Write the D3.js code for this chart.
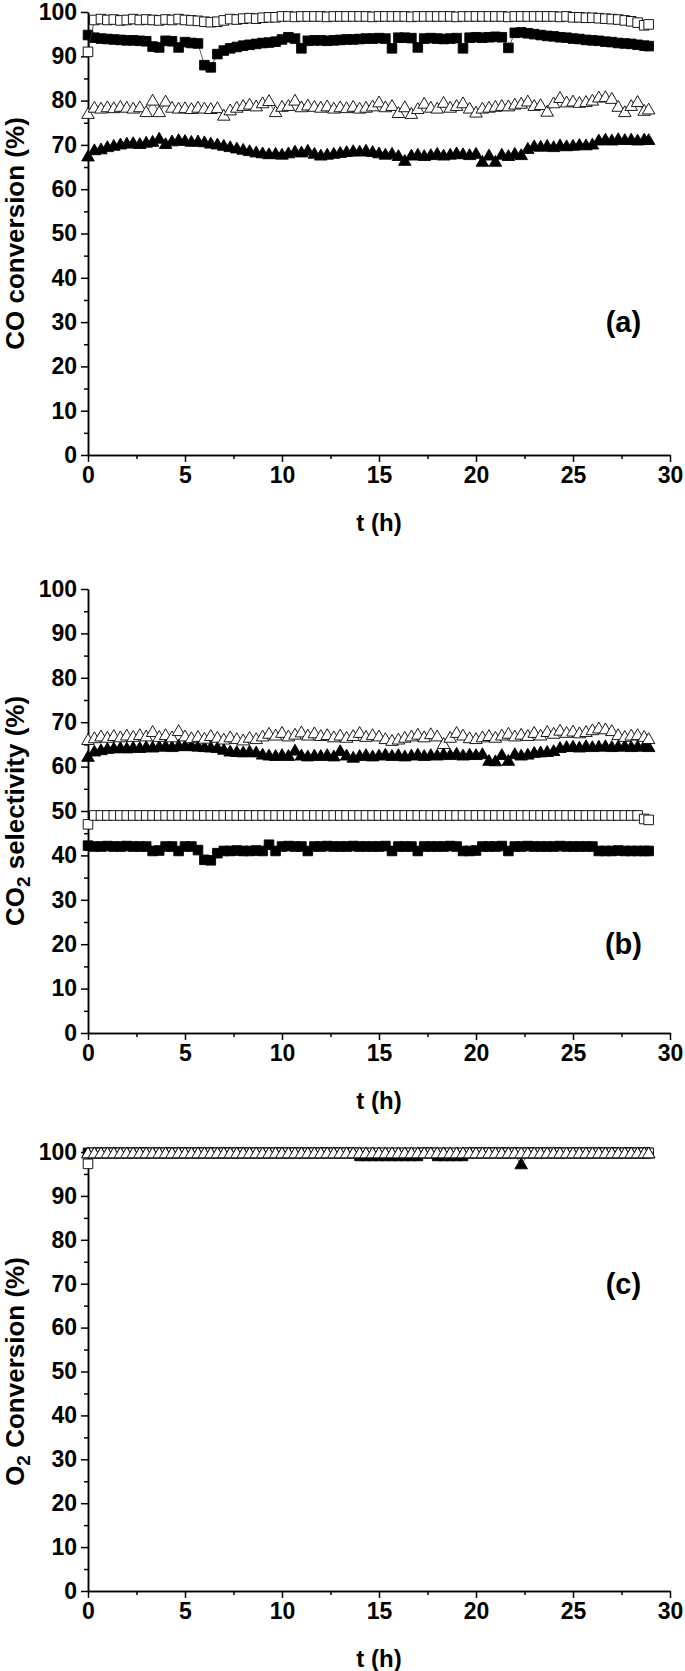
<!DOCTYPE html>
<html>
<head>
<meta charset="utf-8">
<script src="https://cdn.jsdelivr.net/npm/d3@7"></script>
<style>
body { margin: 0; background: #fff; }
svg text { font-family: "Liberation Sans", Arial, sans-serif; font-weight: bold; fill: #000; }
</style>
</head>
<body>
<svg id="chart" width="685" height="1671"></svg>
<script>

// time on stream (h), one sample every ~20 min
var hours = [0, 0.33, 0.67, 1, 1.33, 1.67, 2, 2.33, 2.67, 3,
    3.33, 3.67, 4, 4.33, 4.67, 5, 5.33, 5.67, 6, 6.33,
    6.67, 7, 7.33, 7.67, 8, 8.33, 8.67, 9, 9.33, 9.67,
    10, 10.33, 10.67, 11, 11.33, 11.67, 12, 12.33, 12.67, 13,
    13.33, 13.67, 14, 14.33, 14.67, 15, 15.33, 15.67, 16, 16.33,
    16.67, 17, 17.33, 17.67, 18, 18.33, 18.67, 19, 19.33, 19.67,
    20, 20.33, 20.67, 21, 21.33, 21.67, 22, 22.33, 22.67, 23,
    23.33, 23.67, 24, 24.33, 24.67, 25, 25.33, 25.67, 26, 26.33,
    26.67, 27, 27.33, 27.67, 28, 28.33, 28.67, 28.9];

// (a) CO conversion
var a_open_sq = [91, 98.2, 98.4, 98.2, 98.3, 98.1, 98.2, 98.4, 98.2, 98.3,
    98.2, 98.1, 98.3, 98.2, 98.4, 98.2, 98.1, 98.0, 97.8, 97.7,
    97.8, 98.1, 98.4, 98.3, 98.5, 98.6, 98.5, 98.7, 98.8, 98.8,
    99, 99, 98.9, 99, 99, 99, 99, 98.9, 99, 99,
    99, 99, 99, 99, 98.9, 99, 99, 99, 99, 99,
    98.9, 99, 99, 99, 99, 99, 99, 98.9, 99, 99,
    99, 99, 99, 99, 99, 98.9, 99, 99, 99, 99,
    99, 99, 99, 98.9, 99, 98.8, 98.8, 98.7, 98.7, 98.6,
    98.5, 98.4, 98.3, 98.1, 97.9, 97.6, 97.0, 97.2];
var a_full_sq = [94.8, 94.2, 94.0, 93.9, 93.8, 93.7, 93.6, 93.6, 93.5, 93.4,
    92.2, 92.0, 93.5, 93.4, 92.0, 93.2, 93.0, 92.9, 88.0, 87.5,
    90.5, 91.3, 91.8, 92.1, 92.4, 92.6, 92.8, 93.0, 93.1, 93.3,
    93.8, 94.3, 94.0, 91.8, 93.5, 93.6, 93.6, 93.5, 93.6, 93.7,
    93.8, 93.8, 93.9, 94.0, 94.0, 94.1, 94.0, 91.8, 94.2, 94.2,
    94.1, 92.0, 94.0, 94.1, 94.0, 93.9, 94.0, 94.1, 91.8, 94.2,
    94.3, 94.2, 94.3, 94.4, 94.3, 91.9, 95.3, 95.4, 95.2, 95.0,
    94.8, 94.6, 94.5, 94.3, 94.2, 94.0, 93.9, 93.7, 93.6, 93.5,
    93.3, 93.2, 93.0, 92.9, 92.8, 92.6, 92.4, 92.3];
var a_open_tri = [76.8, 78.2, 78.0, 78.3, 78.1, 78.4, 78.2, 78.0, 78.3, 77.2,
    79.8, 77.2, 79.6, 78.2, 78.0, 78.1, 77.9, 78.2, 78.0, 77.9,
    78.1, 76.4, 77.6, 78.2, 78.6, 78.9, 78.5, 79.2, 79.7, 77.2,
    78.4, 78.6, 79.8, 78.3, 78.7, 78.4, 78.2, 78.5, 78.0, 78.3,
    78.1, 78.4, 78.0, 78.2, 78.5, 79.4, 78.3, 78.6, 77.0, 78.3,
    76.8, 77.9, 79.1, 78.2, 78.0, 79.3, 78.2, 78.6, 79.2, 78.0,
    77.1, 78.0, 78.2, 78.4, 78.6, 78.5, 78.9, 79.1, 79.6, 78.6,
    78.8, 77.3, 79.2, 80.4, 79.4, 79.6, 79.3, 79.5, 79.8, 80.5,
    80.6, 80.2, 78.4, 77.2, 78.6, 79.5, 77.5, 77.8];
var a_full_tri = [67.2, 68.6, 68.8, 69.3, 69.6, 69.9, 70.1, 70.2, 70.0, 70.3,
    70.5, 71.2, 70.0, 70.6, 70.9, 70.7, 70.5, 70.6, 70.4, 70.1,
    69.9, 69.6, 69.3, 69.0, 68.7, 68.4, 68.1, 67.9, 67.7, 67.8,
    67.6, 67.9, 68.3, 68.1, 68.5, 67.8, 67.4, 67.6, 67.8, 68.0,
    68.2, 68.4, 68.3, 68.5, 68.2, 67.9, 67.6, 67.8, 67.3, 66.2,
    67.4, 67.6, 67.3, 67.5, 67.8, 67.4, 67.6, 67.9, 67.7, 67.5,
    67.8, 66.0, 67.4, 66.0, 67.6, 67.3, 67.8, 67.5, 68.9, 69.5,
    69.4, 69.6, 69.3, 69.7, 69.5, 69.6, 69.8, 69.7, 69.9, 70.8,
    71.0, 70.8, 71.1, 70.9, 71.0, 70.8, 71.0, 70.9];

// (b) CO2 selectivity
var b_open_sq = [47.0, 49, 49, 49, 49, 49, 49, 49, 49, 49,
    49, 49, 49, 49, 49, 49, 49, 49, 49, 49,
    49, 49, 49, 49, 49, 49, 49, 49, 49, 49,
    49, 49, 49, 49, 49, 49, 49, 49, 49, 49,
    49, 49, 49, 49, 49, 49, 49, 49, 49, 49,
    49, 49, 49, 49, 49, 49, 49, 49, 49, 49,
    49, 49, 49, 49, 49, 49, 49, 49, 49, 49,
    49, 49, 49, 49, 49, 49, 49, 49, 49, 49,
    49, 49, 49, 49, 49, 49, 48.2, 48.0];
var b_full_sq = [42.2, 42.0, 42.0, 42.1, 42.0, 42.0, 42.1, 42.0, 42.0, 42.0,
    41.0, 41.1, 42.0, 42.0, 41.0, 42.0, 42.0, 41.2, 39.0, 38.9,
    40.5, 41.0, 41.0, 41.1, 41.0, 41.0, 41.1, 41.0, 42.4, 41.0,
    42.0, 42.1, 42.0, 42.0, 41.0, 42.0, 42.0, 42.1, 42.0, 42.0,
    42.0, 42.1, 42.0, 42.0, 42.0, 42.0, 42.1, 41.0, 42.0, 42.0,
    42.0, 41.0, 42.0, 42.0, 42.0, 42.0, 42.1, 42.0, 41.0, 41.0,
    41.1, 42.0, 42.0, 42.0, 42.1, 41.0, 42.0, 42.0, 42.1, 42.0,
    42.0, 42.0, 42.0, 42.1, 42.0, 42.0, 42.0, 42.0, 42.0, 41.0,
    41.0, 41.0, 41.1, 41.0, 41.0, 41.0, 41.0, 41.0];
var b_open_tri = [65.8, 66.2, 66.6, 66.3, 66.7, 66.4, 66.8, 66.5, 66.9, 66.6,
    67.6, 66.5, 66.9, 66.4, 67.8, 66.6, 66.2, 66.5, 66.1, 66.7,
    66.3, 65.9, 66.4, 66.0, 65.7, 66.3, 66.0, 66.6, 67.2, 66.8,
    67.4, 66.6, 67.0, 67.5, 66.8, 67.3, 66.7, 66.9, 66.4, 66.8,
    66.3, 66.7, 67.4, 66.5, 66.9, 66.6, 66.0, 65.6, 65.9, 66.3,
    66.6, 67.0, 66.4, 67.1, 66.6, 64.9, 66.3, 67.4, 66.8, 66.2,
    66.0, 66.4, 66.7, 66.3, 66.8, 67.2, 66.6, 67.0, 66.7, 67.4,
    66.8, 67.6, 67.2, 67.9, 67.4, 67.7, 67.3, 67.6, 68.0, 68.4,
    68.2, 67.8, 66.9, 66.5, 66.8, 66.9, 66.5, 66.0];
var b_full_tri = [62.0, 63.2, 63.5, 63.8, 63.9, 64.0, 63.9, 64.1, 64.0, 64.2,
    64.1, 64.3, 64.4, 64.2, 64.5, 64.4, 64.5, 64.3, 64.2, 64.1,
    64.0, 63.6, 63.2, 63.1, 63.0, 63.2, 63.0, 62.5, 62.3, 62.2,
    62.4, 62.2, 63.4, 62.3, 62.1, 62.3, 62.2, 62.4, 62.1, 63.3,
    62.3, 61.8, 62.2, 62.4, 62.1, 62.3, 62.5, 62.2, 62.4, 62.1,
    62.3, 62.5, 62.2, 62.4, 62.3, 62.6, 62.4, 62.7, 62.3, 62.5,
    62.4, 62.6, 61.1, 61.0, 62.4, 61.1, 62.6, 62.3, 62.5, 62.9,
    63.0, 63.1, 63.3, 64.0, 64.2, 64.3, 64.1, 64.4, 64.2, 64.3,
    64.4, 64.2, 64.3, 64.4, 64.2, 64.3, 64.4, 64.2];

// (c) O2 conversion
var c_open_sq = [97.3, 99.8, 99.8, 99.8, 99.8, 99.8, 99.8, 99.8, 99.8, 99.8,
    99.8, 99.8, 99.8, 99.8, 99.8, 99.8, 99.8, 99.8, 99.8, 99.8,
    99.8, 99.8, 99.8, 99.8, 99.8, 99.8, 99.8, 99.8, 99.8, 99.8,
    99.8, 99.8, 99.8, 99.8, 99.8, 99.8, 99.8, 99.8, 99.8, 99.8,
    99.8, 99.8, 99.8, 99.8, 99.8, 99.8, 99.8, 99.8, 99.8, 99.8,
    99.8, 99.8, 99.8, 99.8, 99.8, 99.8, 99.8, 99.8, 99.8, 99.8,
    99.8, 99.8, 99.8, 99.8, 99.8, 99.8, 99.8, 99.8, 99.8, 99.8,
    99.8, 99.8, 99.8, 99.8, 99.8, 99.8, 99.8, 99.8, 99.8, 99.8,
    99.8, 99.8, 99.8, 99.8, 99.8, 99.8, 99.8, 99.8];
var c_full_sq = [99.8, 99.8, 99.8, 99.8, 99.8, 99.8, 99.8, 99.8, 99.8, 99.8,
    99.8, 99.8, 99.8, 99.8, 99.8, 99.8, 99.8, 99.8, 99.8, 99.8,
    99.8, 99.8, 99.8, 99.8, 99.8, 99.8, 99.8, 99.8, 99.8, 99.8,
    99.8, 99.8, 99.8, 99.8, 99.8, 99.8, 99.8, 99.8, 99.8, 99.8,
    99.8, 99.8, 99.1, 99.1, 99.1, 99.1, 99.1, 99.1, 99.1, 99.1,
    99.1, 99.1, 99.8, 99.8, 99.1, 99.1, 99.1, 99.1, 99.1, 99.8,
    99.8, 99.8, 99.8, 99.8, 99.8, 99.8, 99.8, 99.8, 99.8, 99.8,
    99.8, 99.8, 99.8, 99.8, 99.8, 99.8, 99.8, 99.8, 99.8, 99.8,
    99.8, 99.8, 99.8, 99.8, 99.8, 99.8, 99.8, 99.8];
var c_open_tri = [99.5, 99.5, 99.5, 99.5, 99.5, 99.5, 99.5, 99.5, 99.5, 99.5,
    99.5, 99.5, 99.5, 99.5, 99.5, 99.5, 99.5, 99.5, 99.5, 99.5,
    99.5, 99.5, 99.5, 99.5, 99.5, 99.5, 99.5, 99.5, 99.5, 99.5,
    99.5, 99.5, 99.5, 99.5, 99.5, 99.5, 99.5, 99.5, 99.5, 99.5,
    99.5, 99.5, 99.5, 99.5, 99.5, 99.5, 99.5, 99.5, 99.5, 99.5,
    99.5, 99.5, 99.5, 99.5, 99.5, 99.5, 99.5, 99.5, 99.5, 99.5,
    99.5, 99.5, 99.5, 99.5, 99.5, 99.5, 99.5, 99.5, 99.5, 99.5,
    99.5, 99.5, 99.5, 99.5, 99.5, 99.5, 99.5, 99.5, 99.5, 99.5,
    99.5, 99.5, 99.5, 99.5, 99.5, 99.5, 99.5, 99.5];
var c_full_tri = [99.5, 99.5, 99.5, 99.5, 99.5, 99.5, 99.5, 99.5, 99.5, 99.5,
    99.5, 99.5, 99.5, 99.5, 99.5, 99.5, 99.5, 99.5, 99.5, 99.5,
    99.5, 99.5, 99.5, 99.5, 99.5, 99.5, 99.5, 99.5, 99.5, 99.5,
    99.5, 99.5, 99.5, 99.5, 99.5, 99.5, 99.5, 99.5, 99.5, 99.5,
    99.5, 99.5, 99.5, 99.5, 99.5, 99.5, 99.5, 99.5, 99.5, 99.5,
    99.5, 99.5, 99.5, 99.5, 99.5, 99.5, 99.5, 99.5, 99.5, 99.5,
    99.5, 99.5, 99.5, 99.5, 99.5, 99.5, 99.5, 97.0, 99.5, 99.5,
    99.5, 99.5, 99.5, 99.5, 99.5, 99.5, 99.5, 99.5, 99.5, 99.5,
    99.5, 99.5, 99.5, 99.5, 99.5, 99.5, 99.5, 99.5];

var y_ticks = [0, 10, 20, 30, 40, 50, 60, 70, 80, 90, 100];
var y_minor = [5, 15, 25, 35, 45, 55, 65, 75, 85, 95];
var x_ticks = [0, 5, 10, 15, 20, 25, 30];
var x_minor = [2.5, 7.5, 12.5, 17.5, 22.5, 27.5];

var panels = [
    {tag: "(a)", tagAt: [27.6, 30], top: 12, bottom: 455,
     title: [["CO conversion (%)", false]],
     series: [[a_full_sq, "square", true], [a_open_sq, "square", false],
              [a_full_tri, "triangle", true], [a_open_tri, "triangle", false]]},
    {tag: "(b)", tagAt: [27.6, 20], top: 589, bottom: 1033,
     title: [["CO", false], ["2", true], [" selectivity (%)", false]],
     series: [[b_full_sq, "square", true], [b_open_sq, "square", false],
              [b_full_tri, "triangle", true], [b_open_tri, "triangle", false]]},
    {tag: "(c)", tagAt: [27.6, 70], top: 1152, bottom: 1591,
     title: [["O", false], ["2", true], [" Conversion (%)", false]],
     series: [[c_full_sq, "square", true], [c_open_sq, "square", false],
              [c_full_tri, "triangle", true], [c_open_tri, "triangle", false]]}
];

var svg = d3.select("#chart");
var x = d3.scaleLinear().domain([0, 30]).range([88, 670]);

function draw_panel(p) {
    var y = d3.scaleLinear().domain([0, 100]).range([p.bottom, p.top]);
    var g = svg.append("g");

    // minor ticks first, then labelled axes over them
    g.append("g").attr("transform", `translate(${x(0)},0)`)
        .call(d3.axisLeft(y).tickValues(y_minor).tickSize(4).tickSizeOuter(0).tickFormat(""));
    g.append("g").attr("transform", `translate(0,${y(0)})`)
        .call(d3.axisBottom(x).tickValues(x_minor).tickSize(4).tickSizeOuter(0).tickFormat(""));

    g.append("g").attr("transform", `translate(${x(0)},0)`)
        .call(d3.axisLeft(y).tickValues(y_ticks).tickSize(7).tickSizeOuter(0).tickPadding(4));
    g.append("g").attr("transform", `translate(0,${y(0)})`)
        .call(d3.axisBottom(x).tickValues(x_ticks).tickSize(7).tickSizeOuter(0).tickPadding(5));

    g.selectAll(".domain, .tick line").attr("stroke", "#000").attr("stroke-width", 1.5);
    g.selectAll(".tick text").style("font-size", "23px").attr("font-family", null);

    // series: thin connecting line + markers
    var line = d3.line().x((d, i) => x(hours[i])).y(d => y(d));
    p.series.forEach(s => {
        var values = s[0], shape = s[1], filled = s[2];
        g.append("path").datum(values)
            .attr("d", line)
            .attr("fill", "none")
            .attr("stroke", "#333")
            .attr("stroke-width", 0.8);

        var sym = d3.symbol()
            .type(shape == "square" ? d3.symbolSquare : d3.symbolTriangle)
            .size(shape == "square" ? 92 : 68);

        g.append("g").selectAll("path")
            .data(values)
            .join("path")
            .attr("transform", (d, i) => `translate(${x(hours[i])},${y(d)})`)
            .attr("d", sym())
            .attr("fill", filled ? "#000" : "#fff")
            .attr("stroke", "#000")
            .attr("stroke-width", 0.9);
    });

    // y title, rotated, with subscript parts
    var mid = (p.top + p.bottom) / 2;
    var title = g.append("text")
        .attr("transform", `translate(24,${mid}) rotate(-90)`)
        .attr("text-anchor", "middle")
        .style("font-size", "26px");
    p.title.forEach((part, i) => {
        var t = title.append("tspan").text(part[0]);
        if (part[1]) t.attr("dy", 6).style("font-size", "19px");
        else if (i > 0 && p.title[i - 1][1]) t.attr("dy", -6);
    });

    g.append("text")
        .attr("x", (x(0) + x(30)) / 2)
        .attr("y", y(0) + 76)
        .attr("text-anchor", "middle")
        .style("font-size", "24px")
        .text("t (h)");

    g.append("text")
        .attr("x", x(p.tagAt[0]))
        .attr("y", y(p.tagAt[1]) + 10)
        .attr("text-anchor", "middle")
        .style("font-size", "29px")
        .text(p.tag);
}

function setup() {
    panels.forEach(draw_panel);
}

window.addEventListener("load", setup);
</script>
</body>
</html>
